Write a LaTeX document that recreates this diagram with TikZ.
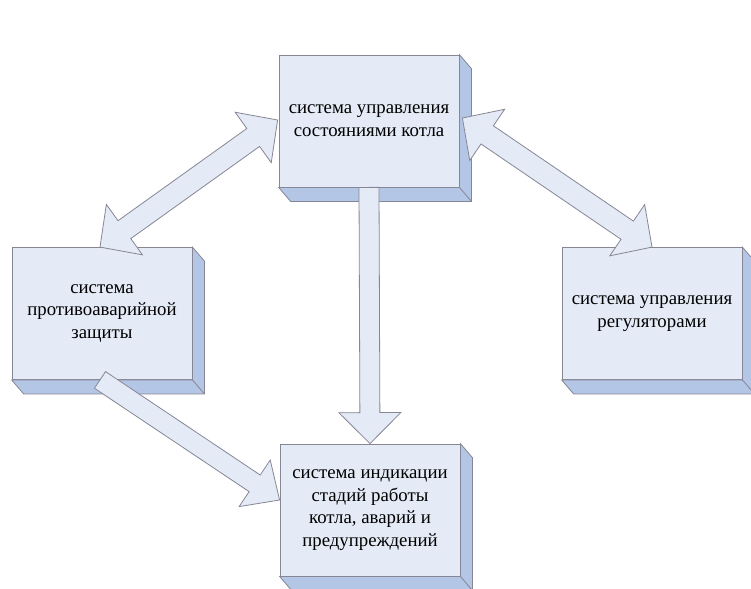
\documentclass[tikz,border=0pt]{standalone}
\usepackage{fontspec}
\setmainfont{Liberation Serif}
\usetikzlibrary{calc}
\definecolor{facecol}{HTML}{E4EBF6}
\definecolor{sidecol}{HTML}{B3C6E5}
\definecolor{edgecol}{HTML}{868694}
\tikzset{
  box/.style={draw=edgecol, fill=facecol, minimum width=180pt, minimum height=132pt,
    inner sep=0pt, align=center, font=\fontsize{18.8}{22.8}\selectfont, line width=0.8pt},
  sidestyle/.style={draw=edgecol, fill=sidecol, line width=0.8pt, line join=miter},
  blockarrow/.style={draw=edgecol, fill=facecol, line width=0.8pt, line join=miter},
}
\newcommand\boxdepth[1]{%
  \filldraw[sidestyle] (#1.north east) -- ($(#1.north east)+(12,14)$) -- ($(#1.south east)+(12,14)$)
    -- ($(#1.south west)+(12,14)$) -- (#1.south west) -- (#1.south east) -- cycle;
  \draw[edgecol, line width=0.8pt] (#1.south east) -- ($(#1.south east)+(12,14)$);}
% double block arrow: #1, #2 tips; #3 shaft half width, #4 head half width, #5 head length
\newcommand\dblarrow[5]{%
  \coordinate (pp) at ($(#1)!#5!(#2)$);
  \coordinate (qq) at ($(#2)!#5!(#1)$);
  \filldraw[blockarrow] (#1) -- ($(pp)!#4!90:(#2)$) -- ($(pp)!#3!90:(#2)$)
    -- ($(qq)!#3!-90:(#1)$) -- ($(qq)!#4!-90:(#1)$) -- (#2)
    -- ($(qq)!#4!90:(#1)$) -- ($(qq)!#3!90:(#1)$)
    -- ($(pp)!#3!-90:(#2)$) -- ($(pp)!#4!-90:(#2)$) -- cycle;}
% single block arrow: #1 tail centre, #2 tip
\newcommand\sglarrow[5]{%
  \coordinate (qq) at ($(#2)!#5!(#1)$);
  \filldraw[blockarrow] ($(#1)!#3!90:(#2)$) -- ($(qq)!#3!-90:(#1)$) -- ($(qq)!#4!-90:(#1)$)
    -- (#2) -- ($(qq)!#4!90:(#1)$) -- ($(qq)!#3!90:(#1)$) -- ($(#1)!#3!-90:(#2)$) -- cycle;}
\begin{document}
\begin{tikzpicture}[x=1pt, y=-1pt]
\useasboundingbox (0,0) rectangle (751,588);
% boxes
\node[box] (A) at (369,121) {система управления\\состояниями котла};
\boxdepth{A}
\node[box] (B) at (102,313.5) {система\\противоаварийной\\защиты};
\boxdepth{B}
\node[box] (C) at (652,313.5) {система управления\\регуляторами};
\boxdepth{C}
\node[box] (D) at (370,510) {система индикации\\стадий работы\\котла, аварий и\\предупреждений};
\boxdepth{D}
% arrow end points
\coordinate (a1) at ($(A.west)+(-1,-1)$);
\coordinate (b1) at ($(B.north)+(-2,0)$);
\coordinate (a2) at ($(A.east)+(3,-3)$);
\coordinate (c1) at (C.north);
\coordinate (a3) at ($(A.south)+(0,0)$);
\coordinate (d1) at (D.north);
\coordinate (b2) at ($(B.south)+(-2,0)$);
\coordinate (d2) at ($(D.west)+(0,-10)$);
% arrows
\dblarrow{a1}{b1}{11pt}{31pt}{30pt}
\dblarrow{a2}{c1}{11pt}{31pt}{30pt}
\sglarrow{a3}{d1}{10pt}{31pt}{31pt}
\sglarrow{b2}{d2}{10pt}{28pt}{30pt}
\end{tikzpicture}
\end{document}
